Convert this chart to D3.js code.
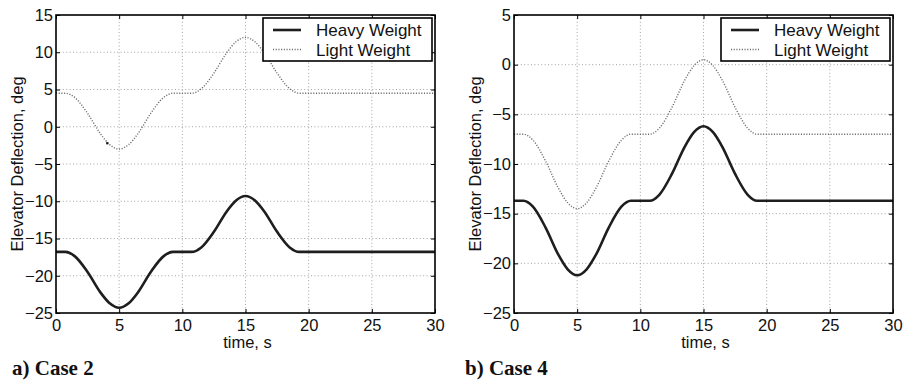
<!DOCTYPE html>
<html>
<head>
<meta charset="utf-8">
<script src="https://cdn.jsdelivr.net/npm/d3@7"></script>
<style>
  body { margin: 0; background: #fff; }
  text { font-family: "Liberation Sans", Arial, Helvetica, sans-serif; fill: #111; }
</style>
</head>
<body>
<div id="viz_container" style="width:904px;height:380px"></div>
<script>
// time samples (s)
const time = [0, 0.75, 1.5, 2.5, 3.5, 4.25, 5, 5.75, 6.5, 7.5, 8.5, 9.25, 10.75, 11.5, 12.5, 13.5, 14.25, 15, 15.75, 16.5, 17.5, 18.5, 19.25, 30];

// Case 2
const heavy2 = [-16.8, -16.8, -17.4, -19.5, -22.2, -23.7, -24.3, -23.7, -22.2, -19.5, -17.4, -16.8, -16.8, -16.2, -14.1, -11.4, -9.9, -9.3, -9.9, -11.4, -14.1, -16.2, -16.8, -16.8];
const light2 = [4.5, 4.5, 3.9, 1.8, -0.9, -2.4, -3.0, -2.4, -0.9, 1.8, 3.9, 4.5, 4.5, 5.1, 7.2, 9.9, 11.4, 12.0, 11.4, 9.9, 7.2, 5.1, 4.5, 4.5];
const glitch2 = [[4.05, -2.2]];

// Case 4
const heavy4 = [-13.7, -13.7, -14.3, -16.4, -19.1, -20.6, -21.2, -20.6, -19.1, -16.4, -14.3, -13.7, -13.7, -13.1, -11.0, -8.3, -6.8, -6.2, -6.8, -8.3, -11.0, -13.1, -13.7, -13.7];
const light4 = [-7.0, -7.0, -7.6, -9.7, -12.4, -13.9, -14.5, -13.9, -12.4, -9.7, -7.6, -7.0, -7.0, -6.4, -4.3, -1.6, -0.1, 0.5, -0.1, -1.6, -4.3, -6.4, -7.0, -7.0];

const xTicks = [0, 5, 10, 15, 20, 25, 30];
const yTicks2 = [-25, -20, -15, -10, -5, 0, 5, 10, 15];
const yTicks4 = [-25, -20, -15, -10, -5, 0, 5];
const legendLabels = ["Heavy Weight", "Light Weight"];

const width = 904, height = 380;
const svg = d3.select("#viz_container").append("svg")
  .attr("width", width).attr("height", height)
  .attr("viewBox", `0 0 ${width} ${height}`);

svg.append("rect").attr("width", width).attr("height", height).attr("fill", "#fff");

function drawPanel(opt) {
  const top = 15, bottom = 313;
  const x = d3.scaleLinear().domain([0, 30]).range([opt.left, opt.right]);
  const y = d3.scaleLinear().domain(opt.yDomain).range([bottom, top]);
  const g = svg.append("g");

  // dotted grid
  g.append("g").selectAll("line").data(xTicks.slice(1, -1)).enter().append("line")
    .attr("x1", d => x(d)).attr("x2", d => x(d)).attr("y1", top).attr("y2", bottom)
    .attr("stroke", "#999").attr("stroke-width", 0.9).attr("stroke-dasharray", "1,2.4");
  g.append("g").selectAll("line").data(opt.yTicks.slice(1, -1)).enter().append("line")
    .attr("x1", opt.left).attr("x2", opt.right).attr("y1", d => y(d)).attr("y2", d => y(d))
    .attr("stroke", "#999").attr("stroke-width", 0.9).attr("stroke-dasharray", "1,2.4");

  // curves
  const line = (vals) => d3.line()
    .x((d, i) => x(time[i]))
    .y(d => y(d))
    .curve(d3.curveMonotoneX)(vals);

  g.append("path").attr("d", line(opt.light))
    .attr("fill", "none").attr("stroke", "#6a6a6a")
    .attr("stroke-width", 1.4).attr("stroke-dasharray", "1.1,1.6");
  g.append("path").attr("d", line(opt.heavy))
    .attr("fill", "none").attr("stroke", "#1e1e1e").attr("stroke-width", 2.6);

  if (opt.glitch) {
    g.selectAll("rect.glitch").data(opt.glitch).enter().append("rect")
      .attr("class", "glitch")
      .attr("x", d => x(d[0]) - 1).attr("y", d => y(d[1]) - 1)
      .attr("width", 2.2).attr("height", 2.2).attr("fill", "#111");
  }

  // axes with inward ticks (box style)
  const styleAxis = (sel) => {
    sel.select(".domain").remove();
    sel.selectAll(".tick line").attr("stroke", "#000").attr("stroke-width", 1);
    sel.selectAll("text").style("font-size", "16.5px").attr("fill", "#111");
  };
  g.append("g").attr("transform", `translate(0,${bottom})`)
    .call(d3.axisBottom(x).tickValues(xTicks).tickSize(-4).tickPadding(6).tickFormat(d3.format("d")))
    .call(styleAxis);
  g.append("g").attr("transform", `translate(0,${top})`)
    .call(d3.axisTop(x).tickValues(xTicks).tickSize(-4).tickFormat(""))
    .call(styleAxis);
  g.append("g").attr("transform", `translate(${opt.left},0)`)
    .call(d3.axisLeft(y).tickValues(opt.yTicks).tickSize(-4).tickPadding(3).tickFormat(d3.format("d")))
    .call(styleAxis);
  g.append("g").attr("transform", `translate(${opt.right},0)`)
    .call(d3.axisRight(y).tickValues(opt.yTicks).tickSize(-4).tickFormat(""))
    .call(styleAxis);

  // frame
  g.append("rect").attr("x", opt.left).attr("y", top)
    .attr("width", opt.right - opt.left).attr("height", bottom - top)
    .attr("fill", "none").attr("stroke", "#000").attr("stroke-width", 1.6);

  // axis titles
  g.append("text").attr("x", (opt.left + opt.right) / 2 + 2).attr("y", 348)
    .attr("text-anchor", "middle").style("font-size", "16.5px").text("time, s");
  g.append("text")
    .attr("transform", `translate(${opt.left - 33},${(top + bottom) / 2}) rotate(-90)`)
    .attr("text-anchor", "middle").style("font-size", "16.5px").text("Elevator Deflection, deg");

  // legend
  const lx = opt.right - 172, ly = 18;
  const lg = g.append("g");
  lg.append("rect").attr("x", lx).attr("y", ly).attr("width", 169).attr("height", 43)
    .attr("fill", "#fff").attr("stroke", "#000").attr("stroke-width", 1.6);
  lg.append("line").attr("x1", lx + 10).attr("x2", lx + 38).attr("y1", ly + 12).attr("y2", ly + 12)
    .attr("stroke", "#1e1e1e").attr("stroke-width", 2.6);
  lg.append("line").attr("x1", lx + 10).attr("x2", lx + 38).attr("y1", ly + 31.5).attr("y2", ly + 31.5)
    .attr("stroke", "#6a6a6a").attr("stroke-width", 1.4).attr("stroke-dasharray", "1.1,1.6");
  lg.selectAll("text").data(legendLabels).enter().append("text")
    .attr("x", lx + 53).attr("y", (d, i) => ly + 18 + i * 19.5)
    .style("font-size", "17px").text(d => d);

  // caption
  svg.append("text").attr("x", opt.capX).attr("y", 375)
    .style("font-family", "'Liberation Serif', 'Times New Roman', serif")
    .style("font-weight", "bold").style("font-size", "21px")
    .text(opt.caption);
}

drawPanel({ left: 56, right: 435, yDomain: [-25, 15], yTicks: yTicks2,
  heavy: heavy2, light: light2, glitch: glitch2, caption: "a) Case 2", capX: 12 });
drawPanel({ left: 514, right: 893, yDomain: [-25, 5], yTicks: yTicks4,
  heavy: heavy4, light: light4, caption: "b) Case 4", capX: 465 });
</script>
</body>
</html>
